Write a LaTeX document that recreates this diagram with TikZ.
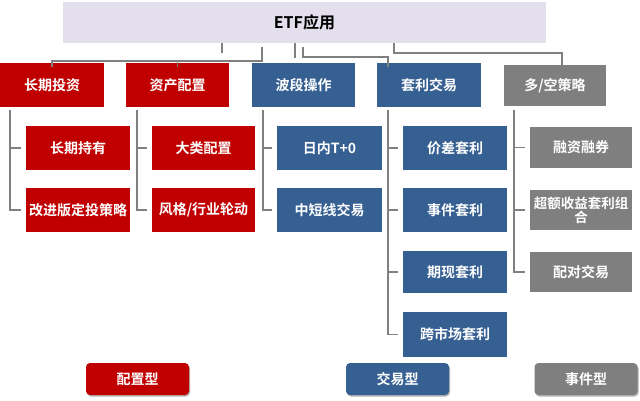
\documentclass[tikz,border=0pt]{standalone}
\usepackage{fontspec}
\setmainfont{Noto Sans CJK SC}[BoldFont={Noto Sans CJK SC Bold}]
\usetikzlibrary{shadows}
\definecolor{cred}{HTML}{C00000}
\definecolor{cblue}{HTML}{366092}
\definecolor{cgray}{HTML}{7F7F7F}
\definecolor{clav}{HTML}{E4DFEC}
\definecolor{cline}{HTML}{808080}
\tikzset{
  x=1pt, y=-1pt,
  box/.style={inner sep=0pt, text=white, font=\fontsize{14}{15}\selectfont\bfseries, align=center},
  rbox/.style={box, fill=cred},
  bbox/.style={box, fill=cblue},
  gbox/.style={box, fill=cgray},
  l1/.style={minimum height=44pt},
  l2/.style={minimum height=44pt},
  legend/.style={box, rounded corners=4pt, minimum width=103pt, minimum height=32pt,
     drop shadow={shadow xshift=1pt, shadow yshift=-1.5pt, opacity=0.3, fill=black}},
  conn/.style={draw=cline, line width=1.6pt},
}
\begin{document}
\begin{tikzpicture}
\useasboundingbox (0,0) rectangle (640,401);
% top
\node[inner sep=0pt, fill=clav, minimum width=483pt, minimum height=41pt,
      font=\fontsize{16}{18}\selectfont\bfseries] (top) at (304.5,22.5) {ETF应用};
% level 1
\node[rbox, l1, minimum width=104pt] (A) at (52,85) {长期投资};
\node[rbox, l1, minimum width=103pt] (B) at (177.5,85) {资产配置};
\node[bbox, l1, minimum width=103pt] (C) at (303.5,85) {波段操作};
\node[bbox, l1, minimum width=104pt] (D) at (429,85) {套利交易};
\node[gbox, minimum width=102pt, minimum height=41pt] (E) at (555,85.5) {多/空策略};
% level 2
\node[rbox, l2, minimum width=104pt] (A1) at (78,148) {长期持有};
\node[rbox, l2, minimum width=104pt] (A2) at (78,210) {改进版定投策略};
\node[rbox, l2, minimum width=103pt] (B1) at (203.5,148) {大类配置};
\node[rbox, l2, minimum width=103pt] (B2) at (203.5,210) {风格/行业轮动};
\node[bbox, l2, minimum width=105pt] (C1) at (329.5,148) {日内T+0};
\node[bbox, l2, minimum width=105pt] (C2) at (329.5,210) {中短线交易};
\node[bbox, l2, minimum width=104pt] (D1) at (455,148) {价差套利};
\node[bbox, l2, minimum width=104pt] (D2) at (455,210) {事件套利};
\node[bbox, minimum height=42pt, minimum width=104pt] (D3) at (455,272) {期现套利};
\node[bbox, minimum height=45pt, minimum width=104pt] (D4) at (455,334.5) {跨市场套利};
\node[gbox, minimum height=41pt, minimum width=102pt] (E1) at (581,147.5) {融资融券};
\node[gbox, minimum height=40pt, minimum width=102pt, font=\fontsize{13.5}{14}\selectfont\bfseries] (E2) at (581,210) {超额收益套利组\\合};
\node[gbox, minimum height=40pt, minimum width=102pt] (E3) at (581,272) {配对交易};
% legend
\node[legend, fill=cred] (LA) at (137.5,379) {配置型};
\node[legend, fill=cblue] (LB) at (397.5,379) {交易型};
\node[legend, fill=cgray] (LC) at (586,379) {事件型};
% top connectors
\coordinate (tA) at ([yshift=-4pt]A.north);
\draw[conn] (tA) -- ++(0,-6) -| ([xshift=-42.5pt,yshift=-4pt]top.south);
\draw[conn] ([yshift=-4pt]B.north) -- ++(0,-6);
\draw[conn] ([xshift=-82.5pt]top.south) -- ++(0,10);
\draw[conn] ([xshift=-9.5pt]top.south) -- ++(0,15);
\draw[conn] ([xshift=-1.5pt,yshift=-4pt]top.south) -- ++(0,10) -| ([xshift=-41pt,yshift=-4pt]D.north);
\draw[conn] ([xshift=89.5pt]top.south) -- ++(0,10) -| ([xshift=7pt,yshift=-4pt]E.north);
% child connectors
\foreach \p/\x/\last/\kids in {A/10/A2/{A1,A2}, B/137/B2/{B1,B2}, C/263/C2/{C1,C2}, D/388/D4/{D1,D2,D3,D4}, E/514/E3/{E1,E2,E3}}{
  \draw[conn] (\x,110) |- ([xshift=-5pt]\last.west);
  \foreach \k in \kids { \draw[conn] (\x,0 |- \k.west) -- ([xshift=-5pt]\k.west); }
}
\end{tikzpicture}
\end{document}
